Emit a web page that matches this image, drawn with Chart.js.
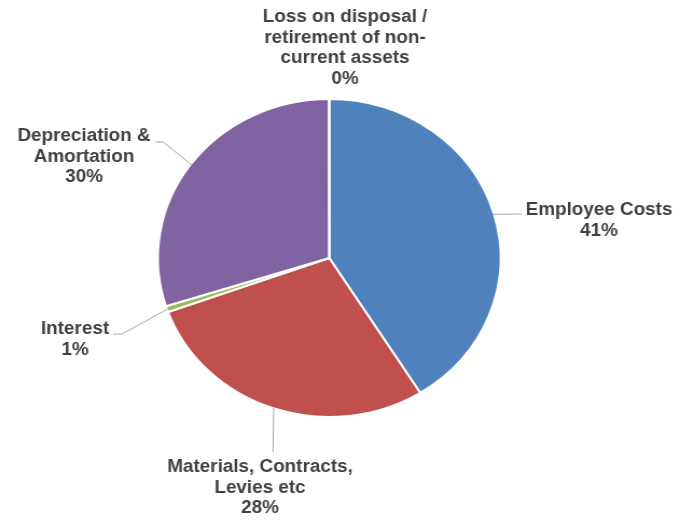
<!DOCTYPE html>
<html>
<head>
<meta charset="utf-8">
<script src="https://cdn.jsdelivr.net/npm/chart.js@4"></script>
<style>
  html, body { margin: 0; padding: 0; background: #fff; overflow: hidden; }
  #wrap { width: 631px; height: 522px; transform: scaleX(1.0777); transform-origin: 0 0; }
</style>
</head>
<body>
<div id="wrap"><canvas id="pieChart" width="631" height="522"></canvas></div>
<script>
const categories = [
  ["Employee Costs"],
  ["Materials, Contracts,", "Levies etc"],
  ["Interest"],
  ["Depreciation &", "Amortation"],
  ["Loss on disposal /", "retirement of non-", "current assets"],
];
const shares = [41.1, 28.4, 0.6, 29.9, 0.02];
const colors = ["#4F81BD", "#C0504D", "#9BBB59", "#8064A2", "#4BACC6"];

const SX = 680 / 631; // page is stretched sideways like the original picture

// where each label sits (page pixels) and how its leader line bends
const labelSpots = [
  { x: 599, y: 210, path: [[522, 214]] },
  { x: 260, y: 467, path: [[273, 452]] },
  { x: 75, y: 329, path: [[122, 334], [113, 334]] },
  { x: 84, y: 136, path: [[163, 142], [155, 142]] },
  { x: 345, y: 17, path: null },
];

const total = shares.reduce((acc, curr) => acc + curr, 0);

const outsideLabels = {
  id: "outsideLabels",
  afterDraw(chart) {
    const ctx = chart.ctx;
    const arcs = chart.getDatasetMeta(0).data;
    ctx.save();
    arcs.forEach((arc, i) => {
      const spot = labelSpots[i];
      if (spot.path) {
        const mid = (arc.startAngle + arc.endAngle) / 2;
        const r = arc.outerRadius - 1;
        ctx.beginPath();
        ctx.moveTo(arc.x + Math.cos(mid) * r, arc.y + Math.sin(mid) * r);
        spot.path.forEach((p) => ctx.lineTo(p[0] / SX, p[1]));
        ctx.strokeStyle = "#A6A6A6";
        ctx.lineWidth = 1;
        ctx.stroke();
      }
      const lines = categories[i].concat(Math.round((shares[i] / total) * 100) + "%");
      ctx.fillStyle = "#404040";
      ctx.font = "bold 17.5px 'Liberation Sans', Arial, sans-serif";
      ctx.textAlign = "center";
      ctx.textBaseline = "middle";
      lines.forEach((txt, j) => {
        ctx.fillText(txt, spot.x / SX, spot.y + j * 20.8);
      });
    });
    ctx.restore();
  },
};

const pieChart = new Chart(document.getElementById("pieChart"), {
  type: "pie",
  data: {
    labels: categories,
    datasets: [
      {
        data: shares,
        backgroundColor: colors,
        borderColor: "#ffffff",
        borderWidth: 2,
        radius: 159,
      },
    ],
  },
  options: {
    responsive: false,
    animation: false,
    layout: { padding: { left: 0, right: 20, top: 0, bottom: 6 } },
    plugins: {
      legend: { display: false },
      tooltip: { enabled: false },
    },
  },
  plugins: [outsideLabels],
});
</script>
</body>
</html>
